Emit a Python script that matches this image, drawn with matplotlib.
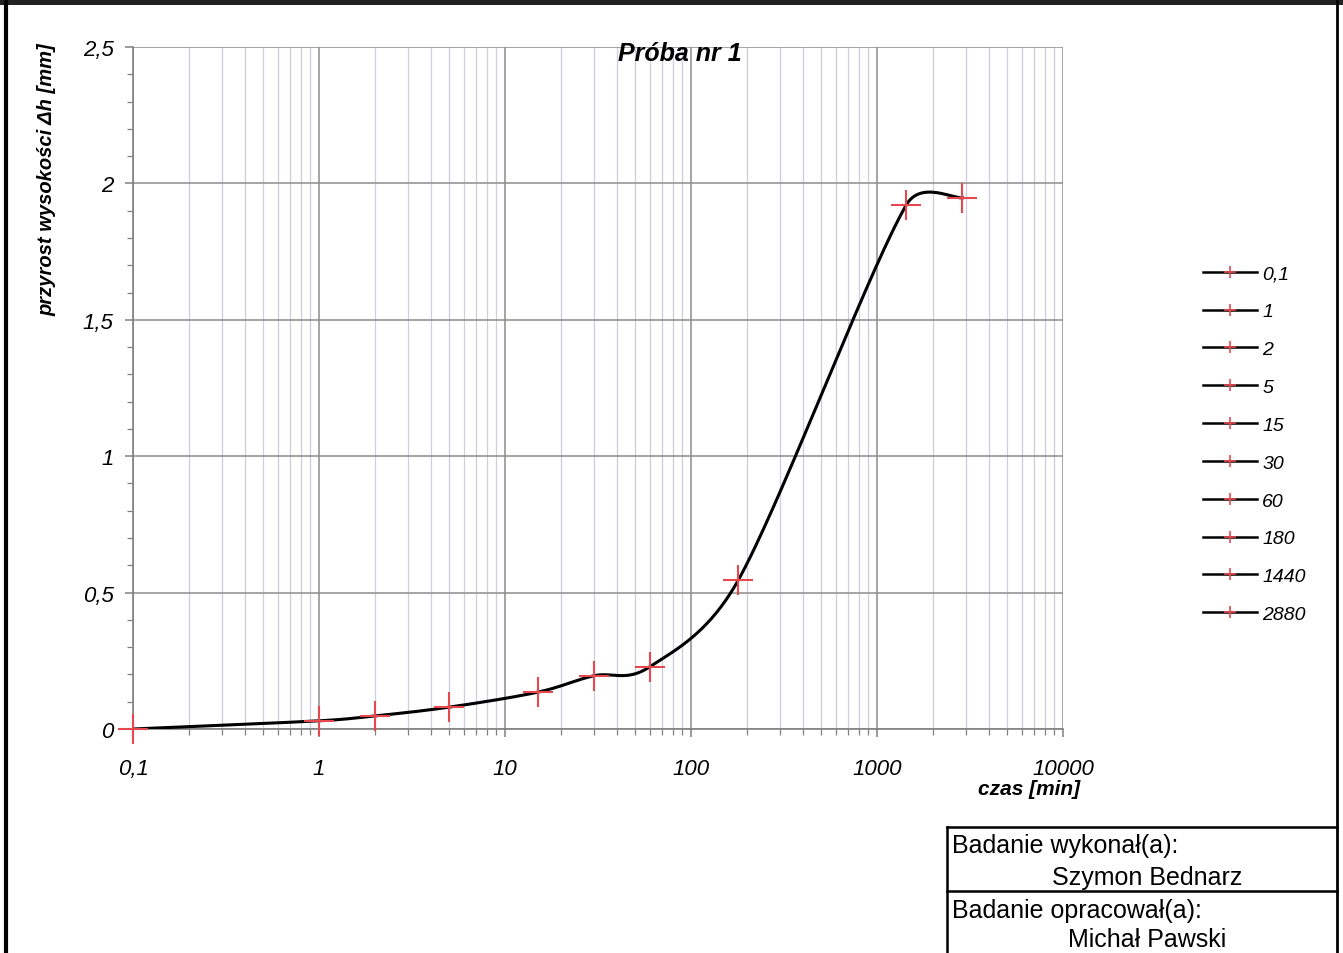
import numpy as np
import matplotlib
matplotlib.use("Agg")
import matplotlib.pyplot as plt
from matplotlib.lines import Line2D
from matplotlib.patches import Rectangle
from matplotlib.ticker import FixedLocator, FuncFormatter, LogLocator, NullFormatter

plt.rcParams['font.family'] = ['Liberation Sans', 'DejaVu Sans']

# data
czas = [0.1, 1, 2, 5, 15, 30, 60, 180, 1440, 2880]
dh = [0.0, 0.03, 0.048, 0.08, 0.135, 0.195, 0.228, 0.547, 1.922, 1.947]
legend_labels = ["0,1", "1", "2", "5", "15", "30", "60", "180", "1440", "2880"]
y_ticks = [0, 0.5, 1, 1.5, 2, 2.5]
x_ticks = [0.1, 1, 10, 100, 1000, 10000]

RED = "#e5484f"
W, H = 1343, 954

fig = plt.figure(figsize=(W / 100, H / 100), dpi=100)
fig.patch.set_facecolor("white")
ax = fig.add_axes([133 / W, 1 - 730 / H, (1063 - 133) / W, (730 - 48) / H])
ax.set_xscale("log")
ax.set_xlim(0.1, 10000)
ax.set_ylim(0, 2.5)


def fmt(v, pos=None):
    return ("%g" % v).replace(".", ",")


ax.xaxis.set_major_locator(FixedLocator(x_ticks))
ax.xaxis.set_major_formatter(FuncFormatter(fmt))
ax.xaxis.set_minor_locator(LogLocator(base=10, subs=np.arange(2, 10)))
ax.xaxis.set_minor_formatter(NullFormatter())
ax.yaxis.set_major_locator(FixedLocator(y_ticks))
ax.yaxis.set_major_formatter(FuncFormatter(fmt))
ax.yaxis.set_minor_locator(FixedLocator(np.arange(0, 2.51, 0.1)))

ax.grid(True, which="major", color="#8c8c8c", lw=1.1)
ax.grid(True, which="minor", axis="x", color="#cfcfdb", lw=0.9)
ax.set_axisbelow(True)
for s in ["top", "right"]:
    ax.spines[s].set_visible(False)
for s in ["left", "bottom"]:
    ax.spines[s].set_color("#808080")
    ax.spines[s].set_linewidth(1.2)
ax.tick_params(which="both", direction="out", color="#808080")
ax.tick_params(which="major", length=6, width=1.1)
ax.tick_params(which="minor", length=4, width=0.9)
ax.tick_params(axis="x", which="major", pad=15)
ax.tick_params(axis="y", which="major", pad=8)
for lab in ax.get_xticklabels() + ax.get_yticklabels():
    lab.set_fontsize(16)
    lab.set_fontstyle("italic")

# smooth line like the spreadsheet "smoothed line" (Bezier through points in screen space)
pts = ax.transData.transform(np.column_stack([czas, dh]))
n = len(pts)
curve = []
for i in range(n - 1):
    p0 = pts[max(i - 1, 0)]
    p1 = pts[i]
    p2 = pts[i + 1]
    p3 = pts[min(i + 2, n - 1)]
    d12 = np.hypot(*(p2 - p1))
    d02 = np.hypot(*(p2 - p0))
    d13 = np.hypot(*(p3 - p1))
    f1 = 1 / 6 if d02 == 0 else min(1 / 6, 0.5 * d12 / d02)
    f2 = 1 / 6 if d13 == 0 else min(1 / 6, 0.5 * d12 / d13)
    c1 = p1 + f1 * (p2 - p0)
    c2 = p2 - f2 * (p3 - p1)
    t = np.linspace(0, 1, 60)[:, None]
    seg = (1 - t) ** 3 * p1 + 3 * (1 - t) ** 2 * t * c1 + 3 * (1 - t) * t ** 2 * c2 + t ** 3 * p2
    curve.append(seg if i == 0 else seg[1:])
curve = np.vstack(curve)
curve_data = ax.transData.inverted().transform(curve)
ax.plot(curve_data[:, 0], curve_data[:, 1], color="black", lw=2.2, zorder=3)

# each point is its own series
for x, y, lab in zip(czas, dh, legend_labels):
    ax.plot([x], [y], ls="none", marker="+", ms=22, mew=1.5, color=RED, zorder=4, clip_on=False)

handles = [Line2D([], [], color="black", lw=1.8, marker="+", ms=8, mew=1.2, mec=RED) for _ in legend_labels]
leg = fig.legend(handles, legend_labels, loc="upper left",
                 bbox_to_anchor=(1203 / W, 1 - 266 / H), frameon=False,
                 prop={"size": 14, "style": "italic"}, handlelength=2.8,
                 handletextpad=0.25, labelspacing=1.04, borderpad=0, borderaxespad=0)

fig.text(680 / W, 1 - 54 / H, "Próba nr 1", fontsize=18, fontweight="bold", fontstyle="italic",
         ha="center", va="center")
fig.text(47 / W, 1 - 180 / H, "przyrost wysokości Δh [mm]", fontsize=14.5, fontweight="bold",
         fontstyle="italic", rotation=90, ha="center", va="center")
fig.text(1029 / W, 1 - 790 / H, "czas [min]", fontsize=15, fontweight="bold", fontstyle="italic",
         ha="center", va="center")

# page frame
fig.add_artist(Rectangle((0, 1 - 6 / H), 1, 6 / H, transform=fig.transFigure, color="#222222", lw=0))
fig.add_artist(Line2D([6 / W, 6 / W], [0, 1], transform=fig.transFigure, color="black", lw=3))
fig.add_artist(Line2D([1337 / W, 1337 / W], [0, 1], transform=fig.transFigure, color="black", lw=2))

# signature table
fig.add_artist(Line2D([947 / W, 1337 / W], [1 - 828 / H] * 2, transform=fig.transFigure, color="black", lw=1.8))
fig.add_artist(Line2D([947 / W, 1337 / W], [1 - 892 / H] * 2, transform=fig.transFigure, color="black", lw=1.8))
fig.add_artist(Line2D([947 / W, 947 / W], [0, 1 - 828 / H], transform=fig.transFigure, color="black", lw=1.8))
fig.text(952 / W, 1 - 846 / H, "Badanie wykonał(a):", fontsize=18, ha="left", va="center")
fig.text(1147 / W, 1 - 878 / H, "Szymon Bednarz", fontsize=18, ha="center", va="center")
fig.text(952 / W, 1 - 911 / H, "Badanie opracował(a):", fontsize=18, ha="left", va="center")
fig.text(1147 / W, 1 - 940 / H, "Michał Pawski", fontsize=18, ha="center", va="center")

fig.savefig("out.png", dpi=100)
